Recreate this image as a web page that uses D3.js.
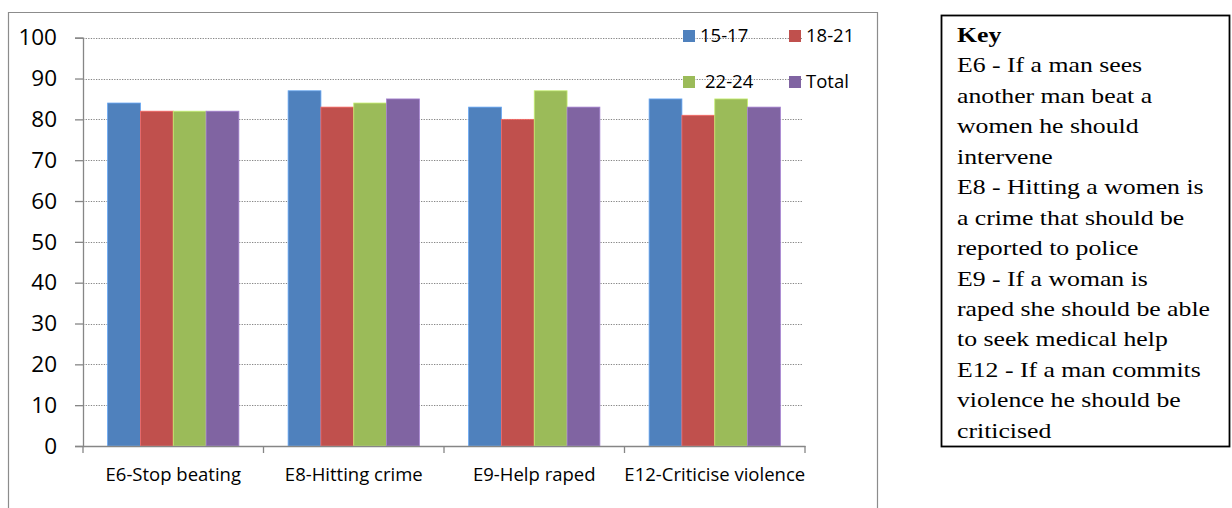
<!DOCTYPE html>
<html>
<head>
<meta charset="utf-8">
<script src="https://cdn.jsdelivr.net/npm/d3@7"></script>
<style>
  html, body { margin: 0; padding: 0; background: #fff; }
  svg { display: block; }
</style>
</head>
<body>
<div id="chartContainer"></div>
<script>
// grouped bar chart + key box
const categories = ["E6-Stop beating", "E8-Hitting crime", "E9-Help raped", "E12-Criticise violence"];
const seriesNames = ["15-17", "18-21", "22-24", "Total"];
const values1517 = [84, 87, 83, 85];
const values1821 = [82, 83, 80, 81];
const values2224 = [82, 84, 87, 85];
const valuesTotal = [82, 85, 83, 83];
const yTicks = [0, 10, 20, 30, 40, 50, 60, 70, 80, 90, 100];
const keyLines = [
    "Key",
    "E6 - If a man sees",
    "another man beat a",
    "women he should",
    "intervene",
    "E8 - Hitting a women is",
    "a crime that should be",
    "reported to police",
    "E9 - If a woman is",
    "raped she should be able",
    "to seek medical help",
    "E12 - If a man commits",
    "violence he should be",
    "criticised"
];

function createChart() {
    const width = 1232, height = 508;
    const colors = ["#4F81BD", "#C0504D", "#9BBB59", "#8064A2"];
    const allValues = [values1517, values1821, values2224, valuesTotal];
    const AXIS = "#868686";
    const FONT = "'Open Sans', sans-serif";

    const svg = d3.select("#chartContainer").append("svg")
        .attr("width", width)
        .attr("height", height);

    // chart frame (bottom runs off the picture)
    svg.append("path")
        .attr("d", `M8.5,${height + 5} V12.5 H877.5 V${height + 5}`)
        .attr("fill", "none")
        .attr("stroke", "#8c8c8c")
        .attr("stroke-width", 1.2);

    const plot = { left: 83, right: 805, top: 37.7, bottom: 446 };

    const y = d3.scaleLinear().domain([0, 100]).range([plot.bottom, plot.top]);
    const x0 = d3.scaleBand().domain(categories).range([plot.left, plot.right]).paddingInner(0).paddingOuter(0);
    // gap width 150% -> bars take 4/5.5 of each category
    const gapFrac = 1.5 / 5.5;
    const x1 = d3.scaleBand().domain(seriesNames)
        .range([x0.bandwidth() * gapFrac / 2, x0.bandwidth() * (1 - gapFrac / 2)])
        .padding(0);

    // dotted gridlines
    svg.append("g")
        .selectAll("line")
        .data(yTicks.filter(d => d > 0))
        .enter()
        .append("line")
        .attr("x1", plot.left)
        .attr("x2", plot.right - 2)
        .attr("y1", d => Math.round(y(d)) + 0.5)
        .attr("y2", d => Math.round(y(d)) + 0.5)
        .attr("stroke", AXIS)
        .attr("stroke-width", 1)
        .attr("stroke-dasharray", "1.3,1.3");

    // bars
    const groups = svg.append("g")
        .selectAll("g")
        .data(categories)
        .enter()
        .append("g")
        .attr("transform", d => `translate(${x0(d)},0)`);

    groups.selectAll("rect")
        .data((c, i) => seriesNames.map((s, j) => ({ s, j, v: allValues[j][i] })))
        .enter()
        .append("rect")
        .attr("x", d => x1(d.s))
        .attr("y", d => y(d.v))
        .attr("width", x1.bandwidth())
        .attr("height", d => y(0) - y(d.v))
        .attr("fill", d => colors[d.j])
        .attr("stroke", d => d3.color(colors[d.j]).brighter(0.7))
        .attr("stroke-width", 0.8);

    // y axis
    const yAxis = svg.append("g")
        .attr("transform", `translate(${plot.left},0)`)
        .call(d3.axisLeft(y).tickValues(yTicks).tickSize(8).tickPadding(18));
    yAxis.select(".domain").attr("stroke", AXIS).attr("stroke-width", 1.3);
    yAxis.selectAll(".tick line").attr("stroke", AXIS).attr("stroke-width", 1.3);
    yAxis.selectAll("text")
        .attr("fill", "#000")
        .style("font-family", FONT)
        .style("font-size", "22.5px");

    // x axis
    const xAxis = svg.append("g")
        .attr("transform", `translate(0,${plot.bottom})`)
        .call(d3.axisBottom(x0).tickSize(0).tickPadding(22));
    xAxis.select(".domain").attr("stroke", AXIS).attr("stroke-width", 1.3);
    xAxis.selectAll("text")
        .attr("fill", "#000")
        .style("font-family", FONT)
        .style("font-size", "18.5px");
    // boundary ticks between categories
    const bounds = categories.map(c => x0(c)).concat([plot.right]);
    svg.append("g")
        .selectAll("line")
        .data(bounds)
        .enter()
        .append("line")
        .attr("x1", d => d)
        .attr("x2", d => d)
        .attr("y1", plot.bottom)
        .attr("y2", plot.bottom + 7)
        .attr("stroke", AXIS)
        .attr("stroke-width", 1.3);

    // legend (2 columns x 2 rows, no background)
    const legend = svg.append("g")
        .selectAll("g")
        .data(seriesNames)
        .enter()
        .append("g")
        .attr("transform", (d, i) => `translate(${683 + (i % 2) * 106},${36 + Math.floor(i / 2) * 46})`);
    legend.append("rect")
        .attr("x", 0)
        .attr("y", -6)
        .attr("width", 12)
        .attr("height", 12)
        .attr("fill", (d, i) => colors[i]);
    legend.append("text")
        .attr("x", (d, i) => i === 2 ? 22 : 17)
        .attr("y", 0)
        .attr("dy", "0.35em")
        .style("font-family", FONT)
        .style("font-size", "18.5px")
        .attr("fill", "#000")
        .text(d => d);

    // key box
    svg.append("rect")
        .attr("x", 941.5)
        .attr("y", 15.5)
        .attr("width", 288)
        .attr("height", 431)
        .attr("fill", "#fff")
        .attr("stroke", "#000")
        .attr("stroke-width", 1.8);

    // the scanned key text is a little wider than plain Times
    svg.append("g")
        .attr("transform", "translate(957,0) scale(1.17,1)")
        .selectAll("text")
        .data(keyLines)
        .enter()
        .append("text")
        .attr("x", 0)
        .attr("y", (d, i) => 41.7 + i * 30.48)
        .style("font-family", "'Liberation Serif', 'Times New Roman', serif")
        .style("font-size", "22px")
        .style("font-weight", (d, i) => i === 0 ? "bold" : "normal")
        .attr("fill", "#000")
        .text(d => d);
}
createChart();
</script>
</body>
</html>
